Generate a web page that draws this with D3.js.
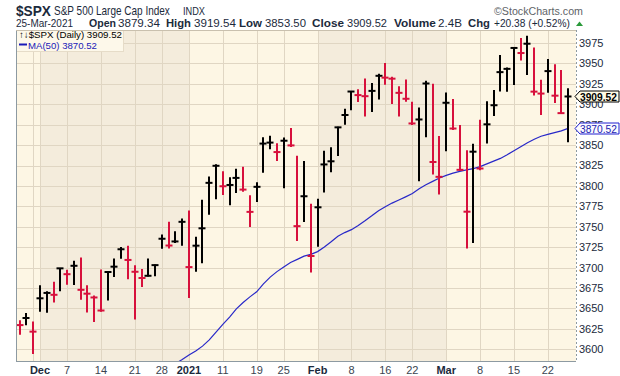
<!DOCTYPE html>
<html><head><meta charset="utf-8">
<script src="https://cdn.jsdelivr.net/npm/d3@7"></script>
<style>
html,body{margin:0;padding:0;background:#fff;}
svg{display:block;font-family:"Liberation Sans",Arial,sans-serif;}
</style></head><body>
<svg id="chart" width="620" height="376"></svg>
<script>
// ---------- DATA ----------
const dates = ["2020-11-25","2020-11-27","2020-11-30","2020-12-01","2020-12-02","2020-12-03","2020-12-04","2020-12-07","2020-12-08","2020-12-09","2020-12-10","2020-12-11","2020-12-14","2020-12-15","2020-12-16","2020-12-17","2020-12-18","2020-12-21","2020-12-22","2020-12-23","2020-12-24","2020-12-28","2020-12-29","2020-12-30","2020-12-31","2021-01-04","2021-01-05","2021-01-06","2021-01-07","2021-01-08","2021-01-11","2021-01-12","2021-01-13","2021-01-14","2021-01-15","2021-01-19","2021-01-20","2021-01-21","2021-01-22","2021-01-25","2021-01-26","2021-01-27","2021-01-28","2021-01-29","2021-02-01","2021-02-02","2021-02-03","2021-02-04","2021-02-05","2021-02-08","2021-02-09","2021-02-10","2021-02-11","2021-02-12","2021-02-16","2021-02-17","2021-02-18","2021-02-19","2021-02-22","2021-02-23","2021-02-24","2021-02-25","2021-02-26","2021-03-01","2021-03-02","2021-03-03","2021-03-04","2021-03-05","2021-03-08","2021-03-09","2021-03-10","2021-03-11","2021-03-12","2021-03-15","2021-03-16","2021-03-17","2021-03-18","2021-03-19","2021-03-22","2021-03-23","2021-03-24","2021-03-25"];
const highs = [3635.50,3644.31,3634.18,3678.45,3670.96,3682.73,3699.20,3697.41,3708.45,3712.39,3678.49,3665.91,3697.61,3695.29,3711.27,3725.12,3726.70,3702.90,3698.26,3711.24,3703.82,3740.51,3756.12,3744.63,3760.20,3769.99,3737.83,3783.04,3811.55,3826.69,3817.86,3810.78,3820.96,3823.60,3788.73,3804.53,3859.75,3861.45,3852.31,3859.23,3870.90,3836.83,3830.50,3778.05,3784.32,3843.09,3847.51,3872.42,3894.56,3915.77,3918.35,3931.50,3925.99,3937.23,3950.43,3933.61,3921.98,3930.41,3902.92,3895.98,3928.65,3925.02,3861.08,3914.50,3906.41,3874.47,3843.67,3851.69,3881.06,3903.76,3917.35,3960.27,3944.99,3970.08,3981.04,3983.87,3969.62,3930.12,3955.31,3949.13,3942.08,3919.54];
const lows = [3617.76,3629.33,3594.39,3645.87,3644.84,3657.17,3670.94,3678.88,3678.83,3660.54,3645.18,3633.40,3645.84,3659.62,3688.57,3710.87,3685.84,3636.48,3676.16,3689.28,3689.32,3723.03,3723.31,3730.21,3726.88,3662.71,3695.07,3705.34,3764.71,3783.60,3789.02,3776.51,3791.50,3792.86,3749.62,3780.37,3816.22,3845.05,3830.41,3797.16,3847.78,3732.48,3755.75,3694.12,3725.62,3791.84,3816.68,3836.66,3874.93,3892.59,3902.64,3884.94,3890.39,3905.78,3923.85,3900.43,3885.03,3903.07,3874.71,3805.59,3859.60,3814.04,3789.54,3842.51,3868.57,3818.86,3723.34,3730.19,3819.25,3851.93,3885.73,3915.54,3915.21,3923.54,3953.44,3935.74,3910.86,3886.75,3914.16,3901.57,3889.07,3853.50];
const closes = [3629.65,3638.35,3621.63,3662.45,3669.01,3666.72,3699.12,3691.96,3702.25,3672.82,3668.10,3663.46,3647.49,3694.62,3701.17,3722.48,3709.41,3694.92,3687.26,3690.01,3703.06,3735.36,3727.04,3732.04,3756.07,3700.65,3726.86,3748.14,3803.79,3824.68,3799.61,3801.19,3809.84,3795.54,3768.25,3798.91,3851.85,3853.07,3841.47,3855.36,3849.62,3750.77,3787.38,3714.24,3773.86,3826.31,3830.17,3871.74,3886.83,3915.59,3911.23,3909.88,3916.38,3934.83,3932.59,3931.33,3913.97,3906.71,3876.50,3881.37,3925.43,3829.34,3811.15,3901.82,3870.29,3819.72,3768.47,3841.94,3821.35,3875.44,3898.81,3939.34,3943.34,3968.94,3962.71,3974.12,3915.46,3913.10,3940.59,3910.52,3889.14,3909.52];
const priorClose = 3635.41;
// MA(50) line, starting at 2020-12-30
const maStartDate = "2020-12-30";
const maValues = [3582.5,3587.4,3593.1,3598.0,3603.9,3611.5,3621.1,3630.6,3639.4,3649.6,3657.3,3664.2,3670.4,3680.1,3688.4,3695.1,3700.8,3706.3,3710.1,3714.0,3716.3,3719.6,3725.2,3731.6,3738.5,3742.9,3746.5,3751.7,3757.4,3763.4,3769.7,3774.5,3779.0,3782.7,3786.6,3790.7,3796.6,3801.5,3805.6,3809.7,3813.0,3815.7,3817.9,3819.6,3821.2,3823.7,3827.0,3830.4,3833.7,3838.2,3843.1,3847.9,3852.8,3857.2,3860.8,3863.1,3865.3,3867.5,3870.52];
const yTicks = [3600,3625,3650,3675,3700,3725,3750,3775,3800,3825,3850,3875,3900,3925,3950,3975];
const gridDates = ["2020-11-30","2020-12-01","2020-12-07","2020-12-14","2020-12-21","2020-12-28","2021-01-04","2021-01-11","2021-01-19","2021-01-25","2021-02-01","2021-02-08","2021-02-16","2021-02-22","2021-03-01","2021-03-08","2021-03-15","2021-03-22"];
const xLabelDates = ["2020-12-01","2020-12-07","2020-12-14","2020-12-21","2020-12-28","2021-01-04","2021-01-11","2021-01-19","2021-01-25","2021-02-01","2021-02-08","2021-02-16","2021-02-22","2021-03-01","2021-03-08","2021-03-15","2021-03-22"];
const xLabels = ["Dec","7","14","21","28","2021","11","19","25","Feb","8","16","22","Mar","8","15","22"];
const xLabelBold = [1,0,0,0,0,1,0,0,0,1,0,0,0,1,0,0,0];
const monthStarts = ["2020-12-01","2021-01-04","2021-02-01","2021-03-01"];
const lastClose = 3909.52, lastMA = 3870.52;

// ---------- LAYOUT ----------
const svg = d3.select("#chart");
const L = 16, R = 576, T = 30, B = 361;
const x = d3.scalePoint().domain(dates).range([19.7, 568.1]);
const y = d3.scaleLinear().domain([3600, 3975]).range([349.3, 43]);

const RED = "#d7103c", BLACK = "#000", NAVY = "#1b2a3c", BLUE = "#2828c8";

svg.append("defs").append("clipPath").attr("id","plot")
  .append("rect").attr("x",L).attr("y",T).attr("width",R-L).attr("height",B-T);

// month shading
const bounds = [L, ...monthStarts.map(d => Math.round(x(d))), R];
const bg = svg.append("g");
for (let i = 0; i < bounds.length - 1; i++) {
  bg.append("rect").attr("x", bounds[i]).attr("y", T).attr("width", bounds[i+1]-bounds[i]).attr("height", B-T)
    .attr("fill", i % 2 === 0 ? "#fdf6e4" : "#f4ecdc");
}
// gridlines
const grid = svg.append("g").attr("stroke","#e0d6c3").attr("stroke-width",1);
yTicks.forEach(v => grid.append("line").attr("x1",L).attr("x2",R)
  .attr("y1",Math.round(y(v))+0.5).attr("y2",Math.round(y(v))+0.5));
gridDates.forEach(d => grid.append("line").attr("y1",T).attr("y2",B)
  .attr("x1",Math.round(x(d))+0.5).attr("x2",Math.round(x(d))+0.5));

// MA line
const maStart = dates.indexOf(maStartDate);
const maData = maValues.map((v,i) => [dates[maStart+i], v]);
svg.append("path").attr("clip-path","url(#plot)")
  .datum(maData)
  .attr("fill","none").attr("stroke",BLUE).attr("stroke-width",1.2)
  .attr("d", d3.line().x(d => x(d[0])).y(d => y(d[1])));

// OHLC (HLC) bars
const bars = svg.append("g").attr("clip-path","url(#plot)");
dates.forEach((d,i) => {
  const prev = i === 0 ? priorClose : closes[i-1];
  const col = closes[i] >= prev ? BLACK : RED;
  const cx = Math.round(x(d));
  bars.append("line").attr("x1",cx).attr("x2",cx)
    .attr("y1",y(highs[i])).attr("y2",y(lows[i]))
    .attr("stroke",col).attr("stroke-width",2);
  bars.append("line").attr("x1",cx-3.5).attr("x2",cx+3.5)
    .attr("y1",y(closes[i])).attr("y2",y(closes[i]))
    .attr("stroke",col).attr("stroke-width",2);
});

// helper: text squeezed horizontally to a target width via transform
function fitText(parent, str, x0, y0, size, width, attrs) {
  const t = parent.append("text").attr("font-size", size).text(str);
  Object.entries(attrs || {}).forEach(([k,v]) => t.attr(k, v));
  const w = t.node().getComputedTextLength();
  const s = w > 0 ? width / w : 1;
  t.attr("transform", `translate(${x0},${y0}) scale(${s},1)`);
  return t;
}

// legend box
const lg = svg.append("g");
lg.append("rect").attr("x",16.5).attr("y",30.5).attr("width",107).attr("height",21)
  .attr("fill","#fdf8ea").attr("stroke","#e6dcc8");
fitText(lg, "\u2191\u2193$SPX (Daily) " + lastClose.toFixed(2), 19, 37.8, 9.5, 103, {fill:"#000"});
lg.append("line").attr("x1",19).attr("x2",27).attr("y1",44.5).attr("y2",44.5)
  .attr("stroke","#1a1ab8").attr("stroke-width",2);
fitText(lg, "MA(50) " + lastMA.toFixed(2), 28, 48.5, 9.5, 69, {fill:"#1a1ab8"});

// frame
svg.append("line").attr("x1",L+0.5).attr("x2",L+0.5).attr("y1",T).attr("y2",B).attr("stroke","#8d9aa2");
svg.append("line").attr("x1",L).attr("x2",R).attr("y1",B+0.5).attr("y2",B+0.5).attr("stroke","#8d9aa2");
svg.append("line").attr("x1",L).attr("x2",R).attr("y1",T+0.5).attr("y2",T+0.5).attr("stroke","#c9c0ae");
svg.append("line").attr("x1",R+0.5).attr("x2",R+0.5).attr("y1",T).attr("y2",B)
  .attr("stroke","#8d9aa2").attr("stroke-dasharray","2,2");

// y axis labels (right)
const ya = svg.append("g").attr("font-size",11).attr("fill",NAVY);
yTicks.forEach(v => ya.append("text").attr("x",579).attr("y",y(v)).attr("dy","0.36em").text(v));

// x axis labels
const xa = svg.append("g").attr("font-size",11).attr("text-anchor","middle");
xLabelDates.forEach((d,i) => xa.append("text").attr("x",x(d)).attr("y",374)
  .attr("font-weight", xLabelBold[i] ? "bold" : "normal")
  .attr("fill", xLabelBold[i] ? NAVY : "#3a4450").text(xLabels[i]));

// right value boxes
function valueBox(v, stroke, fill, tcol, bold) {
  const yc = Math.round(y(v)) + 0.5;
  svg.append("path").attr("d", `M575,${yc} L580,${yc-5.5} L619,${yc-5.5} L619,${yc+5.5} L580,${yc+5.5} Z`)
    .attr("fill",fill).attr("stroke",stroke).attr("stroke-width",1);
  fitText(svg, v.toFixed(2), 580, yc + 4, 11, 37, {"font-weight": bold ? "bold" : "normal", fill: tcol});
}
valueBox(lastClose, "#000", "#fffbe6", "#000", true);
valueBox(lastMA, "#2020d0", "#fbfbff", "#1a1ab0", false);

// header
const hd = svg.append("g").attr("fill",NAVY);
fitText(hd, "$SPX", 16, 15.5, 15, 35, {"font-weight":"bold"});
fitText(hd, "S&P 500 Large Cap Index", 54, 14.5, 12, 116);
fitText(hd, "INDX", 183, 14.5, 10, 22);
fitText(svg, "\u00A9StockCharts.com", 494, 14.5, 11.5, 89, {fill:"#606468"});
const segs = [["25-Mar-2021",16,57,0],["Open",89,27,1],["3879.34",118,42,0],["High",166,25,1],["3919.54",194,42,0],
  ["Low",239,23,1],["3853.50",265,41,0],["Close",312,32,1],["3909.52",347,40,0],["Volume",394,42,1],["2.4B",438,24,0],
  ["Chg",468,22,1],["+20.38 (+0.52%)",494,76,0]];
segs.forEach(s => fitText(hd, s[0], s[1], 27, 11, s[2], {"font-weight": s[3] ? "bold" : "normal"}));
svg.append("path").attr("d","M576,26 L583,26 L579.5,21.5 Z").attr("fill","#2a9a3a");
</script>
</body></html>
